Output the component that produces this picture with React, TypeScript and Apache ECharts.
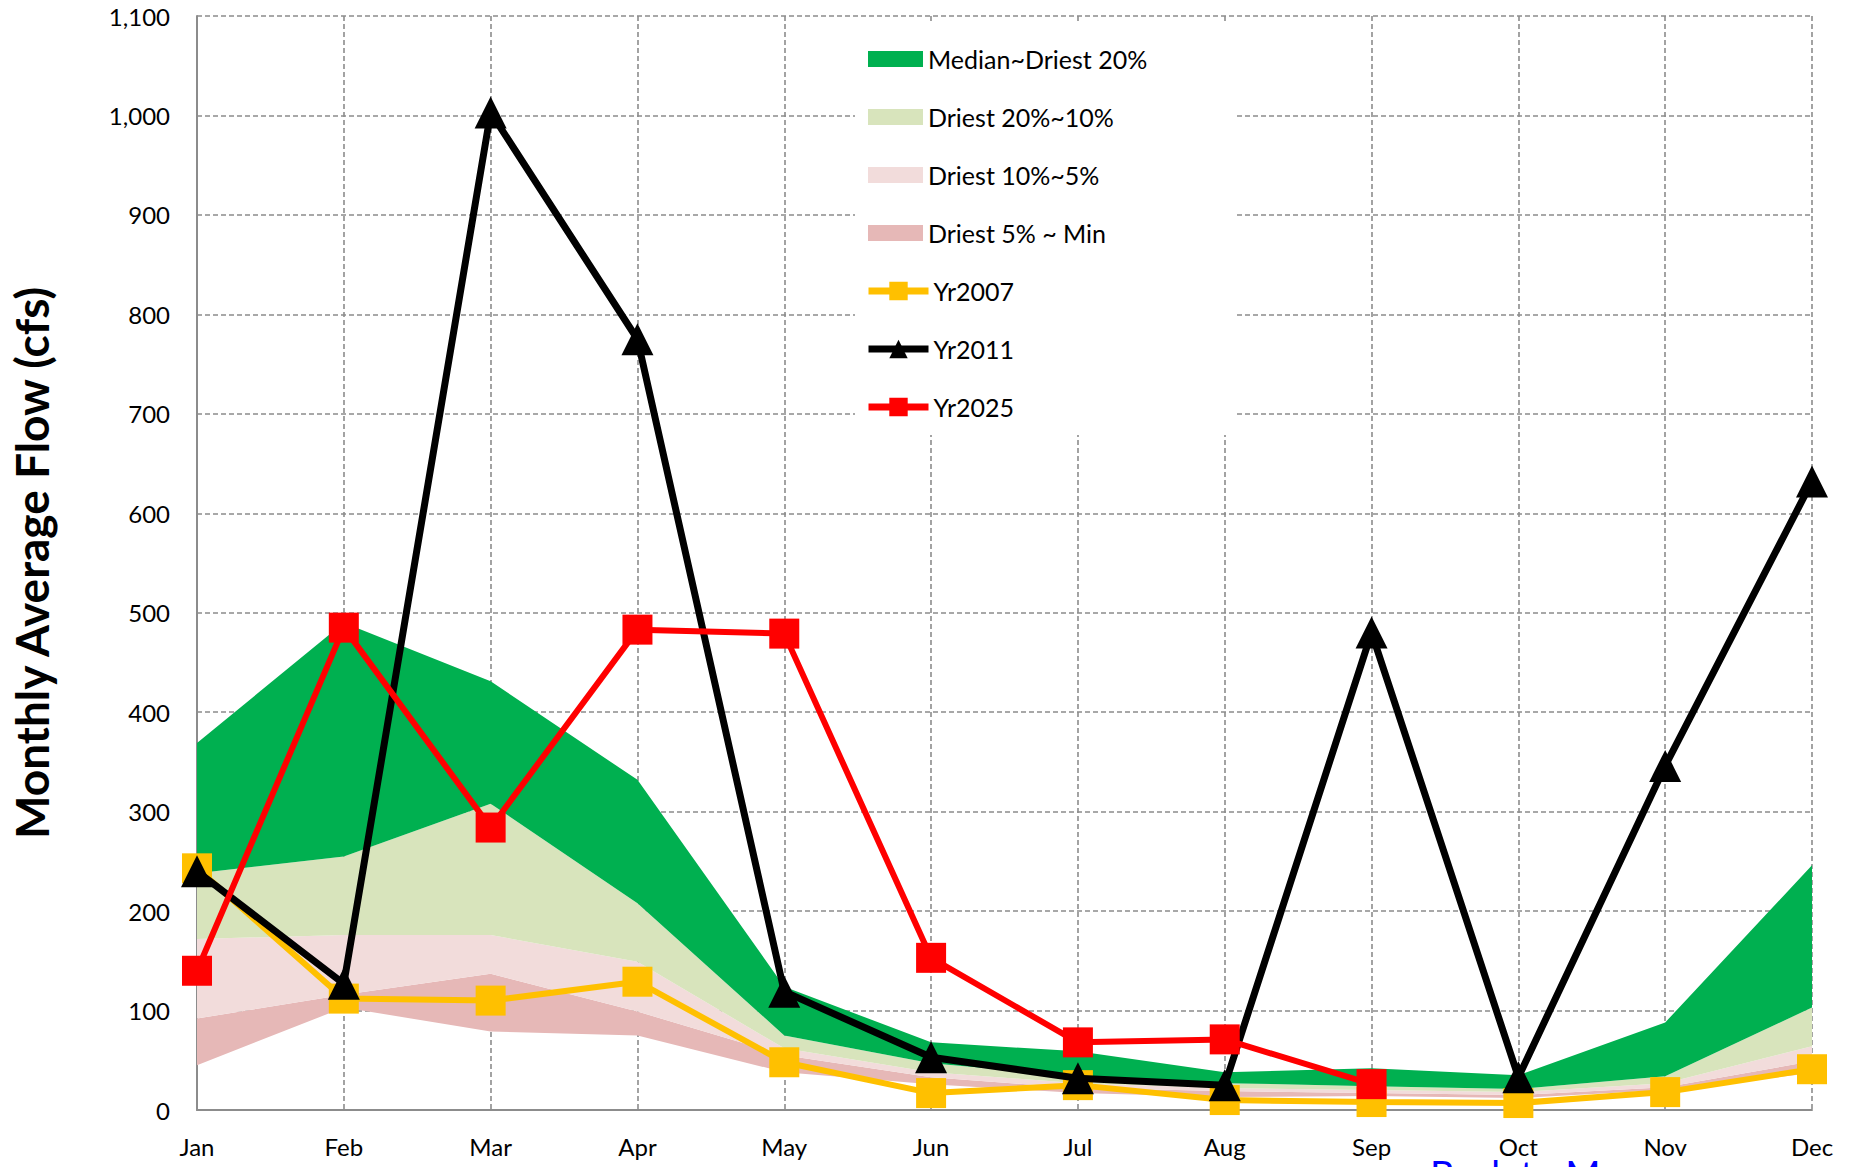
import React, { useEffect, useRef } from "react";
import * as echarts from "echarts";

const months = ["Jan", "Feb", "Mar", "Apr", "May", "Jun", "Jul", "Aug", "Sep", "Oct", "Nov", "Dec"];

// Percentile boundaries (cfs)
const flowMin = [45, 103, 79, 75, 38, 26, 17, 13, 14, 12, 20, 37];
const flowP5 = [92, 116, 137, 99, 55, 33, 22, 19, 17, 15, 23, 49];
const flowP10 = [172, 176, 176, 149, 62, 38, 27, 22, 20, 18, 27, 64];
const flowP20 = [238, 255, 308, 208, 75, 47, 34, 27, 24, 21, 34, 103];
const flowMedian = [369, 490, 431, 332, 124, 68, 59, 38, 42, 35, 88, 246];

const yr2007 = [243, 112, 110, 129, 48, 17, 25, 10, 8, 7, 18, 41];
const yr2011 = [240, 127, 1003, 775, 119, 53, 32, 25, 480, 33, 346, 632];
const yr2025 = [140, 485, 284, 483, 479, 153, 68, 71, 26, null, null, null];

const yTicks = { min: 0, max: 1100, interval: 100 };

const FONT = "Lato";

const diff = (a: number[], b: number[]) => a.map((v, i) => +(v - b[i]).toFixed(2));

export default function App() {
  const ref = useRef<HTMLDivElement>(null);

  useEffect(() => {
    if (!ref.current) return;
    const chart = echarts.init(ref.current, null, { renderer: "svg" });

    const bandNames = ["Median~Driest 20%", "Driest 20%~10%", "Driest 10%~5%", "Driest 5% ~ Min"];
    const lineNames = ["Yr2007", "Yr2011", "Yr2025"];

    const band = (name: string, data: number[], color: string) => ({
      name,
      type: "line",
      stack: "band",
      data,
      symbol: "none",
      silent: true,
      z: 1,
      color,
      itemStyle: { color },
      lineStyle: { width: 0, opacity: 0 },
      areaStyle: { color, opacity: 1 },
      emphasis: { disabled: true },
    });

    const option: any = {
      animation: false,
      backgroundColor: "#ffffff",
      textStyle: { fontFamily: FONT },
      grid: { left: 195, top: 16, right: 38, bottom: 57, containLabel: false },
      xAxis: {
        type: "category",
        data: months,
        boundaryGap: false,
        axisLine: { show: true, lineStyle: { color: "#8c8c8c", width: 2 } },
        axisTick: { show: false },
        axisLabel: { color: "#000", fontSize: 24, fontFamily: FONT, margin: 24, interval: 0 },
        splitLine: {
          show: true,
          interval: 0,
          lineStyle: { color: "#8c8c8c", width: 1.6, type: [5, 3] },
        },
      },
      yAxis: {
        type: "value",
        min: yTicks.min,
        max: yTicks.max,
        interval: yTicks.interval,
        name: "Monthly Average Flow (cfs)",
        nameLocation: "middle",
        nameGap: 143,
        nameTextStyle: { color: "#000", fontSize: 46, fontWeight: "bold", fontFamily: FONT },
        axisLine: { show: true, lineStyle: { color: "#8c8c8c", width: 2 } },
        axisTick: { show: false },
        axisLabel: {
          color: "#000",
          fontSize: 24,
          fontFamily: FONT,
          margin: 27,
          formatter: (v: number) => v.toLocaleString("en-US"),
        },
        splitLine: {
          show: true,
          lineStyle: { color: "#8c8c8c", width: 1.6, type: [5, 3] },
        },
      },
      legend: [
        {
          data: bandNames.map((n) => ({ name: n, icon: "rect" })),
          orient: "vertical",
          left: 855,
          top: 24,
          padding: [20, 87, 187, 13],
          backgroundColor: "#ffffff",
          itemWidth: 55,
          itemHeight: 16,
          itemGap: 28,
          itemStyle: { borderWidth: 0 },
          selectedMode: false,
          textStyle: { color: "#000", fontSize: 25, fontFamily: FONT, lineHeight: 30 },
          z: 4,
        },
        {
          data: lineNames,
          orient: "vertical",
          left: 865,
          top: 276,
          padding: 0,
          itemWidth: 60,
          itemHeight: 23,
          itemGap: 28,
          lineStyle: { width: 7 },
          selectedMode: false,
          textStyle: { color: "#000", fontSize: 25, fontFamily: FONT, lineHeight: 30 },
          z: 5,
        },
      ],
      graphic: [
        {
          type: "text",
          left: 1430,
          top: 1155,
          style: {
            text: "Back to Menu",
            fill: "#0000FF",
            fontSize: 38,
            fontFamily: FONT,
          },
        },
      ],
      series: [
        {
          name: "base",
          type: "line",
          stack: "band",
          data: flowMin,
          symbol: "none",
          silent: true,
          z: 1,
          lineStyle: { width: 0, opacity: 0 },
          emphasis: { disabled: true },
        },
        band("Driest 5% ~ Min", diff(flowP5, flowMin), "#E6B8B7"),
        band("Driest 10%~5%", diff(flowP10, flowP5), "#F2DCDB"),
        band("Driest 20%~10%", diff(flowP20, flowP10), "#D8E4BC"),
        band("Median~Driest 20%", diff(flowMedian, flowP20), "#00B050"),
        {
          name: "Yr2007",
          type: "line",
          data: yr2007,
          z: 3,
          color: "#FFC000",
          symbol: "rect",
          symbolSize: 30,
          itemStyle: { color: "#FFC000" },
          lineStyle: { color: "#FFC000", width: 6 },
          emphasis: { disabled: true },
        },
        {
          name: "Yr2011",
          type: "line",
          data: yr2011,
          z: 4,
          color: "#000000",
          symbol: "triangle",
          symbolSize: 32,
          itemStyle: { color: "#000000" },
          lineStyle: { color: "#000000", width: 7 },
          emphasis: { disabled: true },
        },
        {
          name: "Yr2025",
          type: "line",
          data: yr2025,
          z: 5,
          color: "#FF0000",
          symbol: "rect",
          symbolSize: 30,
          itemStyle: { color: "#FF0000" },
          lineStyle: { color: "#FF0000", width: 6 },
          emphasis: { disabled: true },
        },
      ],
    };

    chart.setOption(option);
    return () => chart.dispose();
  }, []);

  return (
    <div
      ref={ref}
      style={{ position: "absolute", left: 0, top: 0, width: 1850, height: 1167, background: "#fff" }}
    />
  );
}
